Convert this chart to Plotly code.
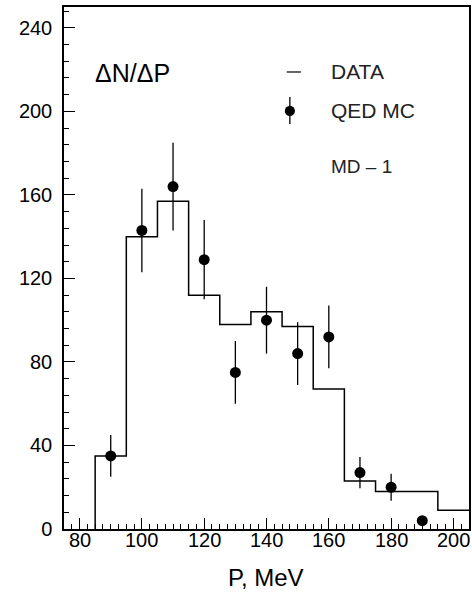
import plotly.graph_objects as go

# DATA histogram: 10 MeV bins starting at 85 MeV
bin_edges = [85, 95, 105, 115, 125, 135, 145, 155, 165, 175, 185, 195, 205]
data_counts = [35, 140, 157, 112, 98, 104, 97, 67, 23, 18, 18, 9]

# QED Monte Carlo points with errors
mc_p = [90, 100, 110, 120, 130, 140, 150, 160, 170, 180, 190]
mc_n = [35, 143, 164, 129, 75, 100, 84, 92, 27, 20, 4]
mc_err = [10, 20, 21, 19, 15, 16, 15, 15, 7.5, 6.5, 1.5]

x_ticks = [80, 100, 120, 140, 160, 180, 200]
y_ticks = [0, 40, 80, 120, 160, 200, 240]

FONT = "Liberation Sans"

fig = go.Figure()

# step outline of the histogram, rising from zero at the first edge
step_x = [bin_edges[0]] + bin_edges
step_y = [0] + data_counts + [data_counts[-1]]
fig.add_trace(go.Scatter(
    x=step_x, y=step_y, mode="lines", line_shape="hv",
    line=dict(color="black", width=1.5), hoverinfo="skip", showlegend=False,
))

fig.add_trace(go.Scatter(
    x=mc_p, y=mc_n, mode="markers",
    marker=dict(color="black", size=11),
    error_y=dict(type="data", array=mc_err, color="black", thickness=1.3, width=0),
    showlegend=False,
))

fig.update_xaxes(
    range=[75, 205], tickvals=x_ticks, ticks="inside", ticklen=11, tickwidth=1.3,
    tickcolor="black", showline=True, linecolor="black", linewidth=1.5, mirror=True,
    showgrid=False, zeroline=False, showticklabels=False,
    minor=dict(dtick=2.5, tick0=75, ticks="inside", ticklen=5, tickcolor="black", tickwidth=1),
)
fig.update_yaxes(
    range=[0, 250], tickvals=y_ticks, ticks="inside", ticklen=11, tickwidth=1.3,
    tickcolor="black", showline=True, linecolor="black", linewidth=1.5, mirror=True,
    showgrid=False, zeroline=False,
    minor=dict(dtick=8, tick0=0, ticks="inside", ticklen=5, tickcolor="black", tickwidth=1),
    tickfont=dict(family=FONT, size=20, color="black"), ticklabelstandoff=6,
)

# legend drawn inside the frame
shapes = [
    dict(type="line", xref="paper", yref="paper", x0=0.550, x1=0.585, y0=0.8755, y1=0.8755,
         line=dict(color="black", width=1.2)),
    dict(type="line", xref="paper", yref="paper", x0=0.5577, x1=0.5577, y0=0.7759, y1=0.8276,
         line=dict(color="black", width=1.3)),
    dict(type="circle", xref="paper", yref="paper", x0=0.5577 - 0.0125, x1=0.5577 + 0.0125,
         y0=0.8008 - 0.0098, y1=0.8008 + 0.0098, fillcolor="black", line=dict(color="black", width=0)),
]

annotations = [
    dict(text="ΔN/ΔP", x=0.0713, y=0.8736, xanchor="left", yanchor="middle",
         xref="paper", font=dict(family=FONT, size=25, color="black")),
    dict(text="DATA", x=0.6536, y=0.8755, xanchor="left", yanchor="middle",
         xref="paper", font=dict(family=FONT, size=21, color="#222")),
    dict(text="QED MC", x=0.6536, y=0.8008, xanchor="left", yanchor="middle",
         xref="paper", font=dict(family=FONT, size=21, color="#222")),
    dict(text="MD – 1", x=0.6536, y=0.6954, xanchor="left", yanchor="middle",
         xref="paper", font=dict(family=FONT, size=19, color="#222")),
    dict(text="P, MeV", x=0.499, y=-0.092, xanchor="center", yanchor="middle",
         xref="paper", font=dict(family=FONT, size=24, color="black")),
]
# x tick labels set just under the axis line
for v in x_ticks:
    annotations.append(dict(text=str(v), x=v, xref="x", y=-0.021, xanchor="center",
                            yanchor="middle", font=dict(family=FONT, size=20, color="black")))
for a in annotations:
    a.update(yref="paper", showarrow=False)

fig.update_layout(
    width=472, height=597,
    margin=dict(l=64, r=1, t=7, b=68),
    plot_bgcolor="white", paper_bgcolor="white",
    shapes=shapes, annotations=annotations,
)

fig.write_html("out.html")
